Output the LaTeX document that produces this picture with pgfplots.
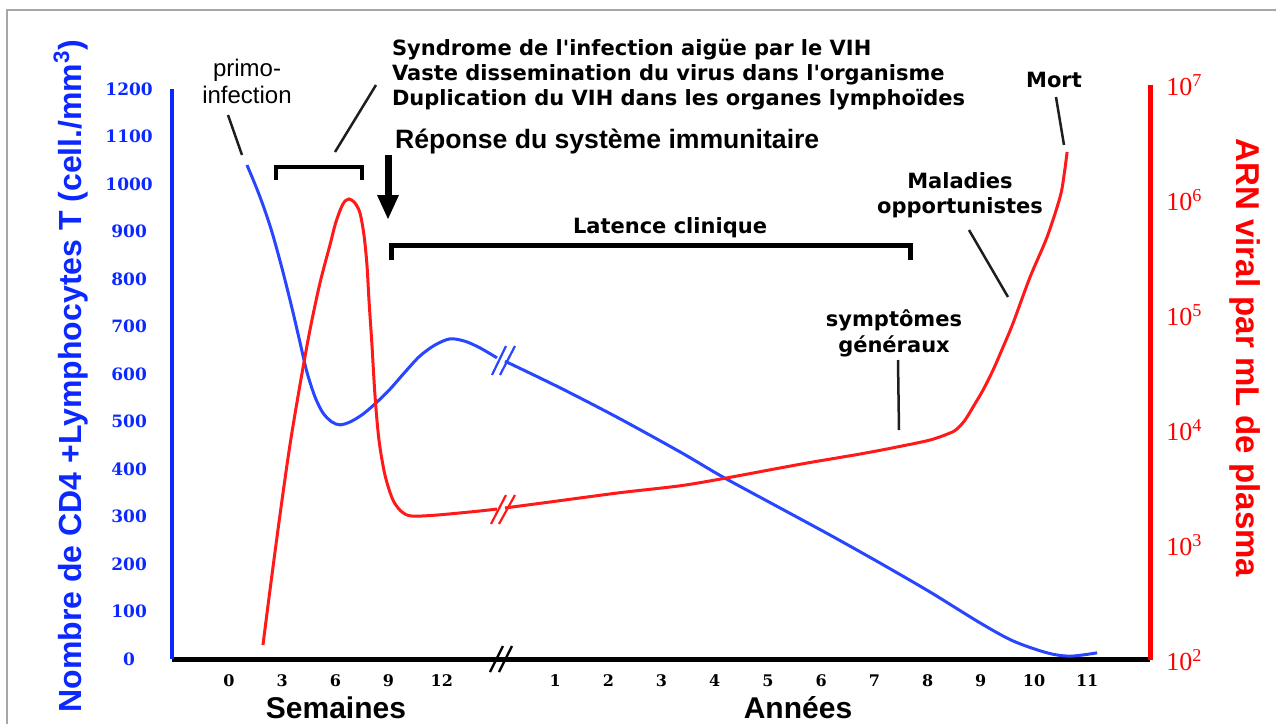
\documentclass[border=0pt]{standalone}
\usepackage{pgfplots}
\pgfplotsset{compat=1.18}
\usepackage{pgfplotstable}
\usepackage{fontspec}
\setmainfont{Liberation Sans}
\newfontfamily\annfont{DejaVu Sans}
\newfontfamily\tickfont{DejaVu Serif}
\newfontfamily\timesfont{Liberation Serif}
\definecolor{axisblue}{RGB}{10,40,255}
\definecolor{curveblue}{RGB}{40,70,255}
\definecolor{curvered}{RGB}{255,25,25}
\definecolor{lead}{RGB}{30,30,30}

% CD4 count, weeks after infection
\pgfplotstableread{
t cd4
1.015 1040
1.466 1000
1.917 956
2.425 899
2.989 823
3.553 739
4.004 667
4.398 604
4.850 552
5.301 518
5.808 499
6.259 493
6.823 499
7.500 514
8.233 537
9.079 568
9.925 604
10.770 638
11.616 661
12.462 674
13.308 669
14.154 655
15.113 634
}\cdweeks
% CD4 count, years after infection
\pgfplotstableread{
t cd4
0.058 627
1.092 571
2.164 509
3.348 436
4.156 383
5.227 318
6.167 261
7.107 202
8.047 141
8.987 76
9.607 38
10.246 13
10.678 6
11.186 13
}\cdyears
% viral RNA, weeks
\pgfplotstableread{
t v
1.917 135
2.425 548
2.932 2099
3.440 7413
4.004 24600
4.568 74130
5.132 189700
5.696 406400
6.034 644700
6.428 923300
6.767 1021000
7.105 941900
7.387 771100
7.613 496500
7.782 272200
7.895 134900
8.064 54830
8.233 20140
8.459 8185
8.797 4062
9.248 2460
9.755 1936
10.319 1786
11.729 1822
14.154 1977
15.113 2056
}\rnaweeks
% viral RNA, years
\pgfplotstableread{
t v
0.058 2099
1.092 2430
2.220 2851
3.348 3273
4.156 3780
5.227 4677
5.847 5272
6.731 6183
7.426 7115
8.047 8185
8.423 9419
8.554 10210
8.704 12210
8.855 15850
9.043 22280
9.231 33240
9.419 52670
9.607 85170
9.926 213800
10.246 476800
10.490 1062000
10.565 1648000
10.622 2612000
}\rnayears

\begin{document}
\begin{tikzpicture}
\begin{axis}[
  at={(86pt,-329.5pt)}, anchor=south west,
  scale only axis, width=489pt, height=285pt,
  xmin=-1.07, xmax=17.31, ymin=0, ymax=1200,
  axis x line=bottom, axis y line=left,
  x axis line style={-, black, line width=2.5pt},
  y axis line style={-, axisblue, line width=2pt},
  major tick length=0pt, minor tick length=0pt,
  xtick={0,1,2,3,4,6.13,7.13,8.13,9.13,10.13,11.13,12.13,13.13,14.13,15.13,16.13},
  xticklabels={0,3,6,9,12,1,2,3,4,5,6,7,8,9,10,11},
  ytick={0,100,200,300,400,500,600,700,800,900,1000,1100,1200},
  /pgf/number format/1000 sep={},
  /pgf/number format/assume math mode=true,
  xticklabel style={font=\tickfont\bfseries\fontsize{8}{9}\selectfont, anchor=north, inner sep=0pt, yshift=-7.5pt},
  yticklabel style={font=\tickfont\bfseries\fontsize{8.5}{10}\selectfont, text=axisblue, anchor=east, inner sep=0pt, text width=27pt, align=center, xshift=-7.75pt},
  clip=false,
]
\addplot[curveblue, line width=1.5pt, smooth, tension=0.5] table[x expr=\thisrow{t}/3, y=cd4] {\cdweeks};
\addplot[curveblue, line width=1.5pt, smooth, tension=0.5] table[x expr=\thisrow{t}+5.13, y=cd4] {\cdyears};
\end{axis}
\begin{axis}[
  at={(86pt,-330pt)}, anchor=south west,
  scale only axis, width=489pt, height=287.5pt,
  xmin=-1.07, xmax=17.31, ymode=log, ymin=100, ymax=1e7,
  axis x line=none, axis y line=right,
  y axis line style={-, red, line width=2.5pt},
  major tick length=0pt, minor tick length=0pt,
  ytick={100,1000,10000,100000,1000000,10000000},
  yticklabels={10\textsuperscript{2},10\textsuperscript{3},10\textsuperscript{4},10\textsuperscript{5},10\textsuperscript{6},10\textsuperscript{7}},
  yticklabel style={font=\timesfont\fontsize{13}{14}\selectfont, text=red, anchor=west, inner sep=0pt, xshift=8pt},
  clip=false,
]
\addplot[curvered, line width=1.5pt, smooth, tension=0.5] table[x expr=\thisrow{t}/3, y=v] {\rnaweeks};
\addplot[curvered, line width=1.5pt, smooth, tension=0.5] table[x expr=\thisrow{t}+5.13, y=v] {\rnayears};
\end{axis}
\begin{scope}[x=0.5pt, y=-0.5pt]
  % frame
  \draw[gray!70, line width=1pt] (6.5,724) -- (6.5,9.5) -- (1276,9.5);
  % break marks
  \draw[black, line width=1.2pt] (490,672) -- (503,646) (499,672) -- (512,646);
  \draw[curveblue, line width=1.1pt] (492,375) -- (506,346) (500,375) -- (515,346);
  \draw[curvered, line width=1.1pt] (491,524) -- (506,495) (499,524) -- (515,495);
  % axis titles
  \node[rotate=90, text=axisblue, font=\bfseries\fontsize{16}{18}\selectfont] at (71,376) {Nombre de CD4 +Lymphocytes T (cell./mm\textsuperscript{3})};
  \node[rotate=-90, text=red, font=\bfseries\fontsize{16.5}{18}\selectfont] at (1245,358) {ARN viral par mL de plasma};
  \node[font=\bfseries\fontsize{15}{16}\selectfont] at (336,708) {Semaines};
  \node[font=\bfseries\fontsize{15}{16}\selectfont] at (798,708) {Années};
  % annotations
  \node[align=center, font=\fontsize{12}{13.5}\selectfont] at (247,81) {primo-\\infection};
  \node[anchor=west, align=left, font=\annfont\bfseries\fontsize{10.5}{12.5}\selectfont] at (385,75) {Syndrome de l'infection aigüe par le VIH\\Vaste dissemination du virus dans l'organisme\\Duplication du VIH dans les organes lymphoïdes};
  \node[anchor=west, font=\bfseries\fontsize{13.3}{15}\selectfont] at (388,142) {Réponse du système immunitaire};
  \node[font=\annfont\bfseries\fontsize{10.5}{12}\selectfont] at (670,228) {Latence clinique};
  \node[align=center, font=\annfont\bfseries\fontsize{10.5}{12.5}\selectfont] at (960,195) {Maladies\\opportunistes};
  \node[font=\annfont\bfseries\fontsize{10.5}{12}\selectfont] at (1054,80) {Mort};
  \node[align=center, font=\annfont\bfseries\fontsize{10.5}{13}\selectfont] at (894,333) {symptômes\\généraux};
  % leader lines
  \draw[lead, line width=1.25pt] (228,115) -- (242,155);
  \draw[lead, line width=1.25pt] (335,152) -- (376,85);
  \draw[lead, line width=1.25pt] (969,230) -- (1008,297);
  \draw[lead, line width=1.25pt] (1056,97) -- (1064,145);
  \draw[lead, line width=1.25pt] (898,360) -- (899,430);
  % brackets
  \draw[black, line width=2pt] (276,180) -- (276,167) -- (362,167) -- (362,180);
  \draw[black, line width=2.5pt] (391,260) -- (391,245) -- (910,245) -- (910,260);
  % arrow
  \draw[black, line width=3.5pt] (388,155) -- (388,197);
  \fill[black] (377,195) -- (399,195) -- (388,219) -- cycle;
  \pgfresetboundingbox
  \path[use as bounding box] (0,0) rectangle (1276,724);
\end{scope}
\end{tikzpicture}
\end{document}
